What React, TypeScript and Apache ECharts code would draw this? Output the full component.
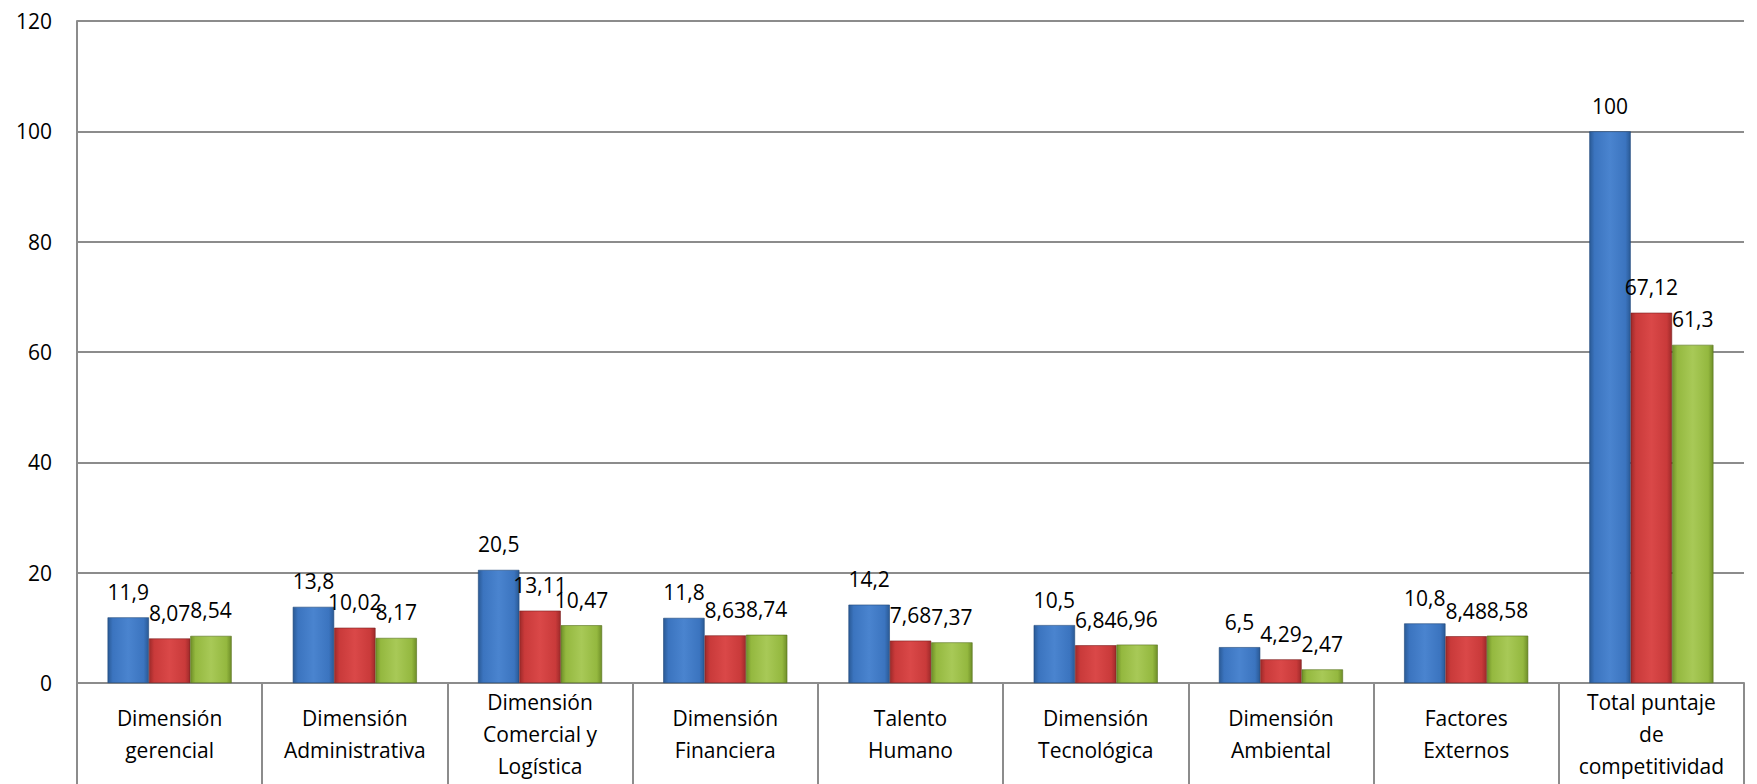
import React, { useEffect, useRef } from "react";
import * as echarts from "echarts";

const categories = [
  "Dimensión\ngerencial",
  "Dimensión\nAdministrativa",
  "Dimensión\nComercial y\nLogística",
  "Dimensión\nFinanciera",
  "Talento\nHumano",
  "Dimensión\nTecnológica",
  "Dimensión\nAmbiental",
  "Factores\nExternos",
  "Total puntaje\nde\ncompetitividad",
];
const serieA = [11.9, 13.8, 20.5, 11.8, 14.2, 10.5, 6.5, 10.8, 100];
const serieB = [8.07, 10.02, 13.11, 8.63, 7.68, 6.84, 4.29, 8.48, 67.12];
const serieC = [8.54, 8.17, 10.47, 8.74, 7.37, 6.96, 2.47, 8.58, 61.3];
const yTicks = { min: 0, max: 120, interval: 20 };

const FONT = "'Open Sans', Lato, sans-serif";
const FS = 21;

function grad(edge: string, mid: string, center: string) {
  return new echarts.graphic.LinearGradient(0, 0, 1, 0, [
    { offset: 0, color: edge },
    { offset: 0.12, color: mid },
    { offset: 0.5, color: center },
    { offset: 0.88, color: mid },
    { offset: 1, color: edge },
  ]);
}

export default function App() {
  const ref = useRef<HTMLDivElement>(null);
  useEffect(() => {
    if (!ref.current) return;
    const chart = echarts.init(ref.current, undefined, { renderer: "svg" });
    const fmt = (p: any) => String(p.value).replace(".", ",");
    const mk = (name: string, data: number[], color: any, border: string) => ({
      name,
      type: "bar",
      data,
      barGap: "0%",
      barCategoryGap: "33%",
      itemStyle: { color, borderColor: border, borderWidth: 0.6 },
      label: {
        show: true,
        position: "top",
        distance: 15,
        formatter: fmt,
        color: "#000",
        fontSize: FS,
        fontFamily: FONT,
      },
    });
    chart.setOption({
      animation: false,
      backgroundColor: "#fff",
      grid: { left: 77, right: 13, top: 21, bottom: 101 },
      xAxis: {
        type: "category",
        data: categories,
        boundaryGap: true,
        axisLine: { show: true, lineStyle: { color: "#8c8c8c", width: 2 } },
        axisTick: {
          show: true,
          interval: 0,
          length: 101,
          lineStyle: { color: "#8c8c8c", width: 2 },
        },
        axisLabel: {
          interval: 0,
          color: "#000",
          fontSize: FS,
          fontFamily: FONT,
          lineHeight: 32,
          align: "center",
          verticalAlign: "middle",
          margin: 51,
        },
      },
      yAxis: {
        type: "value",
        min: yTicks.min,
        max: yTicks.max,
        interval: yTicks.interval,
        axisLine: { show: true, lineStyle: { color: "#8c8c8c", width: 2 } },
        axisTick: { show: false },
        splitLine: { show: true, lineStyle: { color: "#8c8c8c", width: 2 } },
        axisLabel: {
          color: "#000",
          fontSize: FS,
          fontFamily: FONT,
          margin: 25,
        },
      },
      series: [
        mk("A", serieA, grad("#2a5a96", "#3b74bf", "#4a84cf"), "#1f4778"),
        mk("B", serieB, grad("#9e2a2a", "#c93a3a", "#da4848"), "#7a1f1f"),
        mk("C", serieC, grad("#6f8f28", "#94b83f", "#a8c957"), "#56701c"),
      ],
    });
    return () => chart.dispose();
  }, []);
  return (
    <div
      ref={ref}
      style={{ position: "fixed", left: 0, top: 0, width: 1757, height: 784 }}
    />
  );
}
